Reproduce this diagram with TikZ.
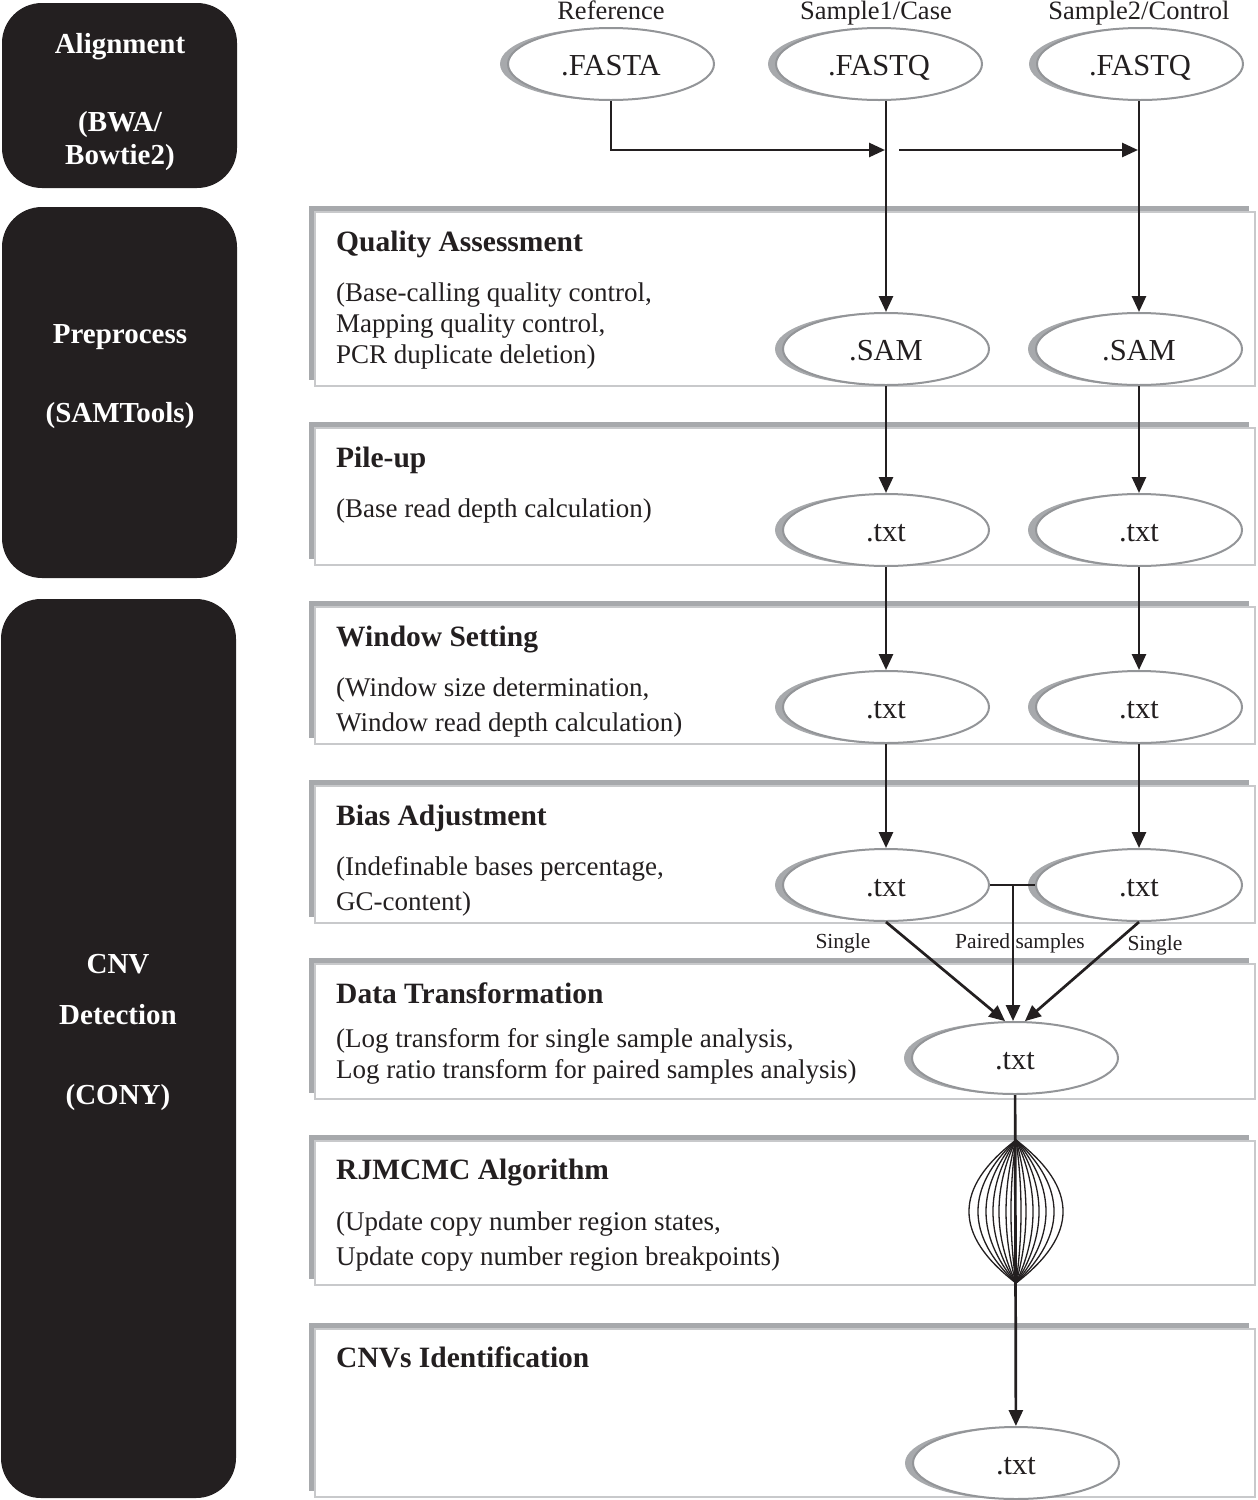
\documentclass[tikz,border=0pt]{standalone}
\usepackage{fontspec}
\setmainfont{Liberation Serif}
\usetikzlibrary{shapes.geometric,arrows.meta,shadows}
\definecolor{blk}{HTML}{231F20}
\definecolor{shadowgray}{HTML}{A7A9AC}
\definecolor{framegray}{HTML}{C8C9CB}
\definecolor{ellline}{HTML}{939598}
\tikzset{
  ell/.style={ellipse, draw=ellline, line width=2pt, fill=white, minimum width=206pt, minimum height=72pt, inner sep=0pt,
    font=\fontsize{30.5}{30.5}\selectfont, text=blk, text height=23pt, text depth=0pt,
    drop shadow={shadow xshift=-8pt, shadow yshift=0pt, fill=shadowgray, opacity=1}},
  stagebox/.style={rectangle, draw=framegray, line width=2pt, fill=white, minimum width=940pt, inner sep=0pt,
    drop shadow={shadow xshift=-6pt, shadow yshift=6pt, fill=shadowgray, opacity=1}},
  blkbox/.style={rectangle, rounded corners=40pt, fill=blk, minimum width=235pt, inner sep=0pt},
  blktxt/.style={anchor=base, text=white, font=\fontsize{29}{29}\selectfont\bfseries},
  ttl/.style={anchor=base west, text=blk, font=\fontsize{29.5}{29.5}\selectfont\bfseries, inner sep=0pt},
  bodytxt/.style={anchor=base west, text=blk, font=\fontsize{27}{27}\selectfont, inner sep=0pt},
  toplab/.style={anchor=base, text=blk, font=\fontsize{26.5}{26.5}\selectfont, inner sep=0pt},
  smalllab/.style={anchor=base, text=blk, font=\fontsize{21.5}{21.5}\selectfont, inner sep=0pt},
  arr/.style={draw=blk, line width=2.7pt, -{Triangle[length=16pt,width=14pt]}},
  plainline/.style={draw=blk, line width=2.7pt},
  lensline/.style={draw=blk, line width=1.3pt},
}
\begin{document}
\begin{tikzpicture}[x=1pt,y=-1pt]
\useasboundingbox (0,0) rectangle (1258,1500);

% left black boxes
\node[blkbox, minimum height=185pt] (bAlign) at (119.5,95.5) {};
\node[blkbox, minimum height=371pt] (bPre) at (119.5,392.5) {};
\node[blkbox, minimum height=899pt] (bCnv) at (118.5,1048.5) {};
\node[blktxt] (tA1) at (120,53) {Alignment};
\node[blktxt] (tA2) at (120,131) {(BWA/};
\node[blktxt] (tA3) at (120,164) {Bowtie2)};
\node[blktxt] (tP1) at (120,343) {Preprocess};
\node[blktxt] (tP2) at (120,422) {(SAMTools)};
\node[blktxt] (tC1) at (118,973) {CNV};
\node[blktxt] (tC2) at (118,1024) {Detection};
\node[blktxt] (tC3) at (118,1104) {(CONY)};

% stage boxes
\node[stagebox, minimum height=174pt] (s1) at (785,299) {};
\node[stagebox, minimum height=137pt] (s2) at (785,496.5) {};
\node[stagebox, minimum height=137pt] (s3) at (785,675.5) {};
\node[stagebox, minimum height=137pt] (s4) at (785,854.5) {};
\node[stagebox, minimum height=135pt] (s5) at (785,1031.5) {};
\node[stagebox, minimum height=144pt] (s6) at (785,1213) {};
\node[stagebox, minimum height=168pt] (s7) at (785,1413) {};

% stage texts
\node[ttl] (t1) at (336,251) {Quality Assessment};
\node[bodytxt] (t1a) at (336,301) {(Base-calling quality control,};
\node[bodytxt] (t1b) at (336,332) {Mapping quality control,};
\node[bodytxt] (t1c) at (336,363) {PCR duplicate deletion)};
\node[ttl] (t2) at (336,467) {Pile-up};
\node[bodytxt] (t2a) at (336,517) {(Base read depth calculation)};
\node[ttl] (t3) at (336,646) {Window Setting};
\node[bodytxt] (t3a) at (336,696) {(Window size determination,};
\node[bodytxt] (t3b) at (336,731) {Window read depth calculation)};
\node[ttl] (t4) at (336,825) {Bias Adjustment};
\node[bodytxt] (t4a) at (336,875) {(Indefinable bases percentage,};
\node[bodytxt] (t4b) at (336,910) {GC-content)};
\node[ttl] (t5) at (336,1003) {Data Transformation};
\node[bodytxt] (t5a) at (336,1047) {(Log transform for single sample analysis,};
\node[bodytxt] (t5b) at (336,1078) {Log ratio transform for paired samples analysis)};
\node[ttl] (t6) at (336,1179) {RJMCMC Algorithm};
\node[bodytxt] (t6a) at (336,1230) {(Update copy number region states,};
\node[bodytxt] (t6b) at (336,1265) {Update copy number region breakpoints)};
\node[ttl] (t7) at (336,1367) {CNVs Identification};

% top labels
\node[toplab] (lref) at (611,19) {Reference};
\node[toplab] (lcase) at (876,19) {Sample1/Case};
\node[toplab] (lctrl) at (1139,19) {Sample2/Control};

% ellipses
\node[ell] (fa) at (611,64) {.FASTA};
\node[ell] (fq1) at (879,64) {.FASTQ};
\node[ell] (fq2) at (1140,64) {.FASTQ};
\node[ell] (sam1) at (886,349) {.SAM};
\node[ell] (sam2) at (1139,349) {.SAM};
\node[ell] (p1) at (886,530) {.txt};
\node[ell] (p2) at (1139,530) {.txt};
\node[ell] (w1) at (886,707) {.txt};
\node[ell] (w2) at (1139,707) {.txt};
\node[ell] (b1) at (886,885) {.txt};
\node[ell] (b2) at (1139,885) {.txt};
\node[ell] (dt) at (1015,1058) {.txt};
\node[ell] (fin) at (1016,1463) {.txt};

% top connectors
\coordinate (j1) at (885,150);
\coordinate (j2a) at (899,150);
\coordinate (j2b) at (1138,150);
\draw[arr] (fa.south) |- (j1);
\draw[arr] (j2a) -- (j2b);
\draw[arr] (fq1.south -| sam1) -- (sam1);
\draw[arr] (fq2.south -| sam2) -- (sam2);

% column connectors
\draw[arr] (sam1) -- (p1);
\draw[arr] (sam2) -- (p2);
\draw[arr] (p1) -- (w1);
\draw[arr] (p2) -- (w2);
\draw[arr] (w1) -- (b1);
\draw[arr] (w2) -- (b2);

% bias -> data transformation
\draw[plainline] (b1.east) -- (b2.west);
\coordinate (pj) at (1013,885);
\draw[arr] (pj) -- (pj |- dt.north);
\draw[arr] (b1.south) -- (dt.105);
\draw[arr] (b2.south) -- (dt.75);
\node[smalllab] (ls1) at (843,948) {Single};
\node[smalllab] (lps) at (1020,948) {Paired samples};
\node[smalllab] (ls2) at (1155,950) {Single};

% RJMCMC lens
\coordinate (lt) at (1016,1140);
\coordinate (lb) at (1016,1283);
\foreach \c in {62.7,50.7,40,30.7,22.7,13.3,6.7}{
  \draw[lensline] (lt) .. controls +(-\c,48) and +(-\c,-48) .. (lb);
  \draw[lensline] (lt) .. controls +(\c,48) and +(\c,-48) .. (lb);
}
\draw[arr] (dt) -- (fin);
\end{tikzpicture}
\end{document}
